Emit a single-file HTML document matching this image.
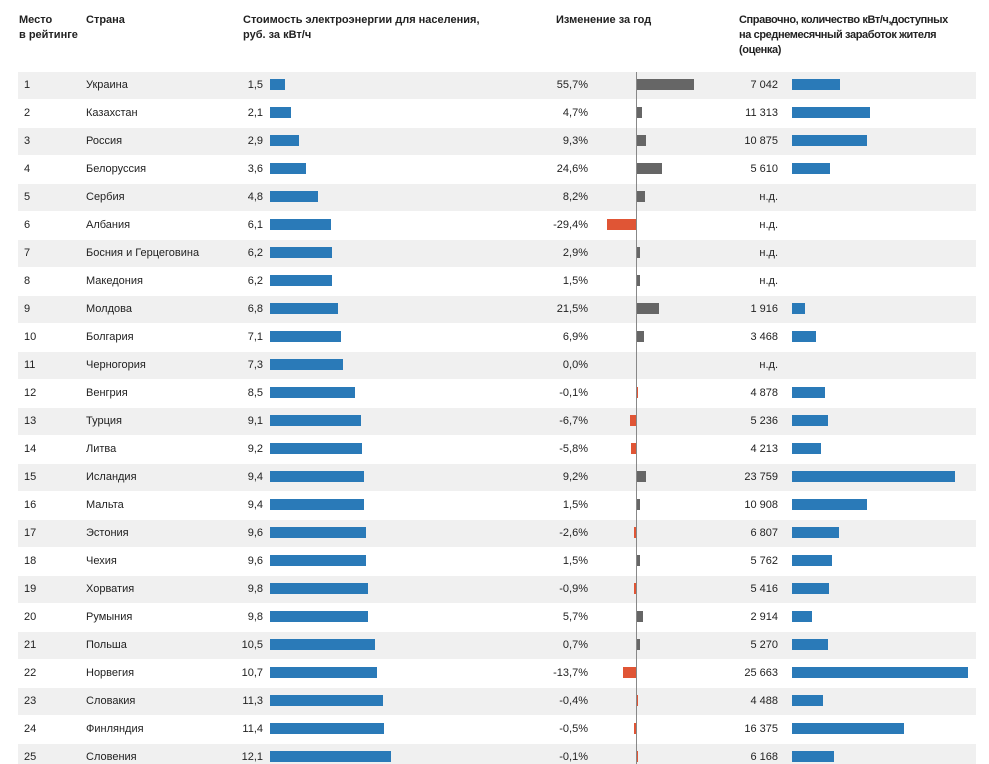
<!DOCTYPE html>
<html><head><meta charset="utf-8">
<style>
body{margin:0;background:#fff;font-family:"Liberation Sans","DejaVu Sans",sans-serif;}
#c{position:relative;width:989px;height:764px;overflow:hidden;}
.h{position:absolute;font-size:11px;font-weight:bold;color:#222;line-height:15px;}
.t{position:absolute;font-size:11px;color:#222;line-height:12px;white-space:nowrap;}
.r{text-align:right;}
.band{position:absolute;left:18px;width:958px;height:27px;background:#f0f0f0;}
.bar{position:absolute;height:11px;}
</style></head>
<body>
<div id="c">
<div class="h" style="left:19px;top:13px">Место<br>в рейтинге</div>
<div class="h" style="left:86px;top:13px">Страна</div>
<div class="h" style="left:243px;top:13px">Стоимость электроэнергии для населения,<br>руб. за кВт/ч</div>
<div class="h" style="left:556px;top:13px">Изменение за год</div>
<div class="h" style="left:739px;top:13px;letter-spacing:-0.4px">Справочно, количество кВт/ч,доступных<br>на среднемесячный заработок жителя<br>(оценка)</div>
</div>
<script>
const countries=["Украина","Казахстан","Россия","Белоруссия","Сербия","Албания","Босния и Герцеговина","Македония","Молдова","Болгария","Черногория","Венгрия","Турция","Литва","Исландия","Мальта","Эстония","Чехия","Хорватия","Румыния","Польша","Норвегия","Словакия","Финляндия","Словения"];
const prices=[1.5,2.1,2.9,3.6,4.8,6.1,6.2,6.2,6.8,7.1,7.3,8.5,9.1,9.2,9.4,9.4,9.6,9.6,9.8,9.8,10.5,10.7,11.3,11.4,12.1];
const changes=[55.7,4.7,9.3,24.6,8.2,-29.4,2.9,1.5,21.5,6.9,0.0,-0.1,-6.7,-5.8,9.2,1.5,-2.6,1.5,-0.9,5.7,0.7,-13.7,-0.4,-0.5,-0.1];
const kwh=[7042,11313,10875,5610,null,null,null,null,1916,3468,null,4878,5236,4213,23759,10908,6807,5762,5416,2914,5270,25663,4488,16375,6168];
const c=document.getElementById('c');
const rowY=i=>72+i*28;
const xPrice=v=>v*10;
const xChange=v=>Math.abs(v)*1.02;
const xKwh=v=>v*0.00686;
function fmt(v,d){return v.toFixed(d).replace('.',',');}
function fmtK(v){return String(v).replace(/\B(?=(\d{3})+(?!\d))/g,' ');}
function add(cls,style,text){const e=document.createElement('div');e.className=cls;e.style.cssText=style;if(text!==undefined)e.textContent=text;c.appendChild(e);return e;}
countries.forEach((n,i)=>{
  const y=rowY(i);
  if(i%2===0){const b=add('band','top:'+y+'px');
    
    }
  const ty=y+7;
  let e=add('t','left:24px;top:'+ty+'px',String(i+1));
  
  
  e=add('t','left:86px;top:'+ty+'px',n);
  
  
  e=add('t r','left:213px;width:50px;top:'+ty+'px',fmt(prices[i],1));
  
  
  e=add('bar','left:270px;top:'+(y+7)+'px;width:'+xPrice(prices[i])+'px;background:#2a7ab8');
  
  
  e=add('t r','left:520px;width:68px;top:'+ty+'px',fmt(changes[i],1)+'%');
  
  
  const v=changes[i];
  if(v!==0){
    let w=xChange(v); if(Math.abs(v)>=0.5) w=Math.max(w,3);
    const left=v>0?637:637-w;
    e=add('bar','left:'+left+'px;top:'+(y+7)+'px;width:'+w+'px;background:'+(v>0?'#666':'#e05535'));
    
    
  }
  e=add('t r','left:700px;width:78px;top:'+ty+'px',kwh[i]===null?'н.д.':fmtK(kwh[i]));
  
  
  if(kwh[i]!==null){
    e=add('bar','left:792px;top:'+(y+7)+'px;width:'+xKwh(kwh[i])+'px;background:#2a7ab8');
    
    
  }
});
const ax=add('','position:absolute;left:636px;top:72px;width:1px;height:692px;background:#888');


</script>
</body></html>
